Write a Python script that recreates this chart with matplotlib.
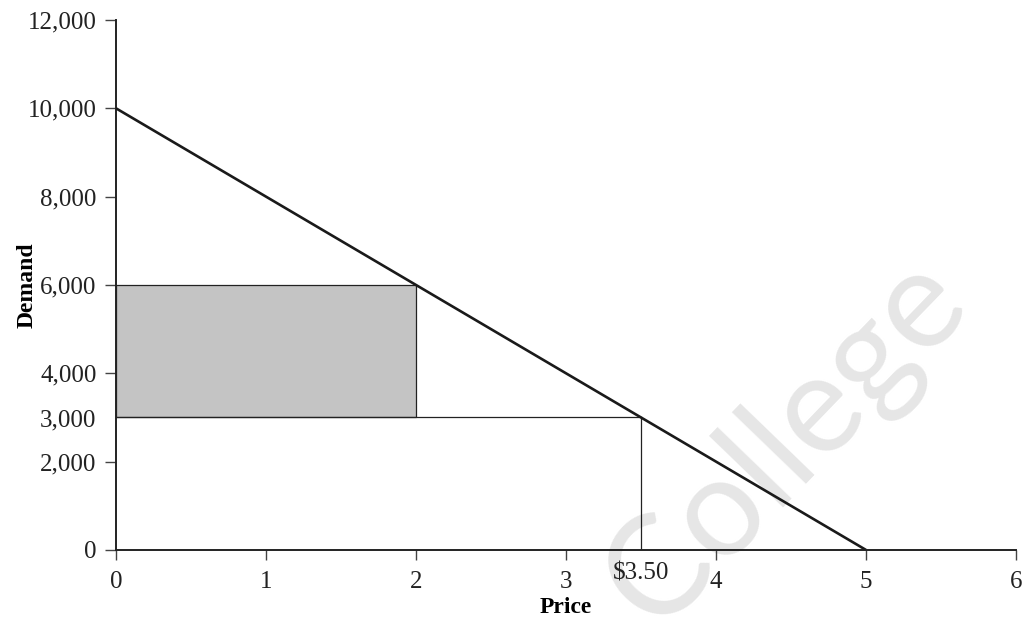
import matplotlib
matplotlib.use("Agg")
import matplotlib.pyplot as plt
from matplotlib.patches import Rectangle

# demand curve end points (price, demand)
price = [0, 5]
demand = [10000, 0]

# shaded block and guide lines
shade_price = [0, 2]
shade_demand = [3000, 6000]
mark_price = 3.5
mark_demand = 3000
mark_label = "$3.50"

xticks = [0, 1, 2, 3, 4, 5, 6]
yticks = [0, 2000, 3000, 4000, 6000, 8000, 10000, 12000]

plt.rcParams['font.family'] = ['Liberation Serif', 'DejaVu Serif']

fig = plt.figure(figsize=(10.35, 6.19), dpi=100)
ax = fig.add_axes([0.1121, 0.1115, 0.8696, 0.8562])

# faint watermark behind everything
ax.text(0.76, 0.285, "College", transform=fig.transFigure, family="Lato",
        fontsize=100, color="#e6e6e6", rotation=46,
        ha="center", va="center", zorder=0, clip_on=False)

ax.add_patch(Rectangle((shade_price[0], shade_demand[0]),
                       shade_price[1] - shade_price[0],
                       shade_demand[1] - shade_demand[0],
                       facecolor="#c4c4c4", edgecolor="#222222", lw=0.9, zorder=2))
ax.plot([0, mark_price], [mark_demand, mark_demand], color="#222222", lw=0.9, zorder=2)
ax.plot([mark_price, mark_price], [0, mark_demand], color="#222222", lw=0.9, zorder=2)
ax.plot(price, demand, color="#1a1a1a", lw=1.9, zorder=3, solid_capstyle="butt")

ax.set_xlim(0, 6)
ax.set_ylim(0, 12000)
ax.set_xticks(xticks)
ax.set_xticklabels([str(t) for t in xticks])
ax.set_yticks(yticks)
ax.set_yticklabels([f"{t:,}" for t in yticks])
ax.yaxis.get_major_ticks()[2].tick1line.set_visible(False)

ax.text(mark_price, -280, mark_label, ha="center", va="top", fontsize=18,
        color="#222222", zorder=5)

for s in ["top", "right"]:
    ax.spines[s].set_visible(False)
for s in ["left", "bottom"]:
    ax.spines[s].set_linewidth(1.4)
    ax.spines[s].set_color("#222222")
ax.spines["bottom"].set_zorder(4)

ax.tick_params(axis="x", length=7, width=1, color="#444444", labelsize=18, pad=8, labelcolor="#222222")
ax.tick_params(axis="y", length=8, width=1, color="#444444", labelsize=18, pad=6, labelcolor="#222222")

ax.set_xlabel("Price", fontsize=17, fontweight="bold", labelpad=3)
ax.set_ylabel("Demand", fontsize=17, fontweight="bold", labelpad=-7)

fig.savefig("out.png", dpi=100)
